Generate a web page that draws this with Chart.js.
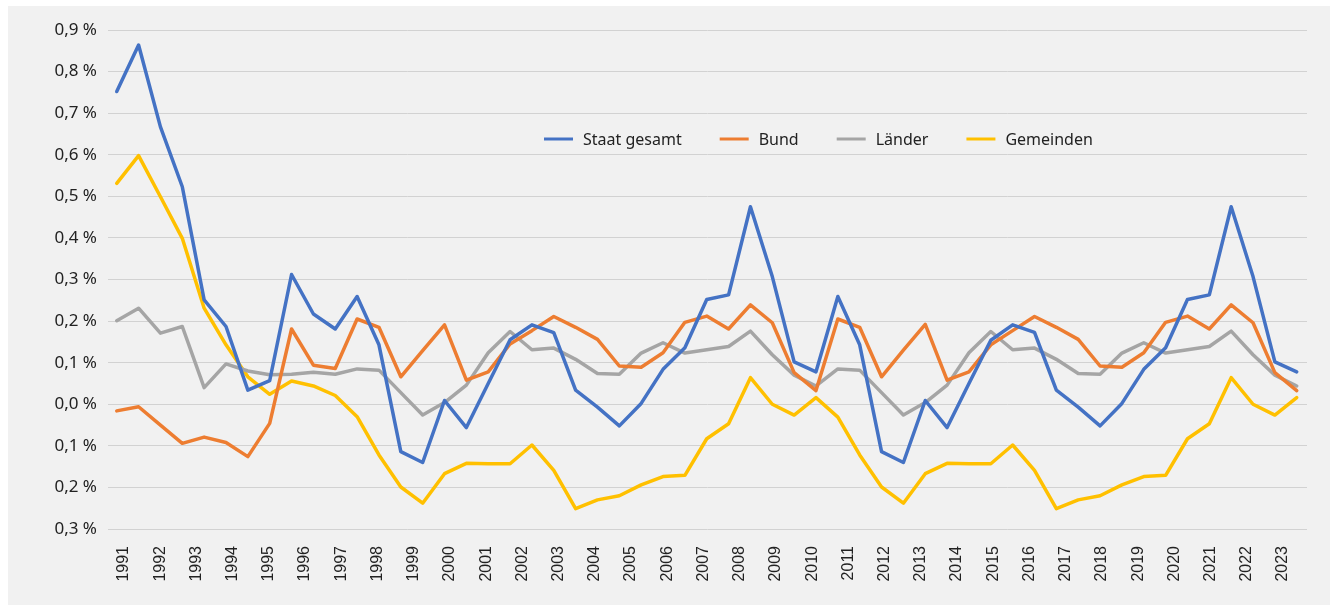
<!DOCTYPE html>
<html>
<head>
<meta charset="utf-8">
<script src="https://cdn.jsdelivr.net/npm/chart.js@4.4.1/dist/chart.umd.min.js"></script>
<style>
  html, body { margin: 0; padding: 0; background: #fff; }
  #box { position: absolute; left: 8px; top: 6px; width: 1322px; height: 599px; background: #f1f1f1; }
</style>
</head>
<body>
<div id="box"><canvas id="chart"></canvas></div>
<script>
// tick labels on the x axis
const years = [1991, 1992, 1993, 1994, 1995, 1996, 1997, 1998, 1999, 2000, 2001,
  2002, 2003, 2004, 2005, 2006, 2007, 2008, 2009, 2010, 2011, 2012, 2013, 2014,
  2015, 2016, 2017, 2018, 2019, 2020, 2021, 2022, 2023];

// the lines have 55 points, spread evenly under the year labels
const steps = [0, 1, 2, 3, 4, 5, 6, 7, 8, 9, 10, 11, 12, 13, 14, 15, 16, 17, 18, 19,
  20, 21, 22, 23, 24, 25, 26, 27, 28, 29, 30, 31, 32, 33, 34, 35, 36, 37, 38, 39,
  40, 41, 42, 43, 44, 45, 46, 47, 48, 49, 50, 51, 52, 53, 54];

const yTicks = [-0.3, -0.2, -0.1, 0, 0.1, 0.2, 0.3, 0.4, 0.5, 0.6, 0.7, 0.8, 0.9];

const staat = [0.752, 0.864, 0.667, 0.523, 0.251, 0.187, 0.034, 0.057, 0.312, 0.217,
  0.181, 0.259, 0.143, -0.114, -0.140, 0.009, -0.056, 0.050, 0.155, 0.191,
  0.172, 0.034, -0.007, -0.052, 0.002, 0.084, 0.136, 0.252, 0.263, 0.475,
  0.307, 0.102, 0.078, 0.259, 0.143, -0.114, -0.140, 0.009, -0.056, 0.050,
  0.154, 0.191, 0.173, 0.034, -0.007, -0.052, 0.002, 0.084, 0.136, 0.252,
  0.263, 0.475, 0.307, 0.102, 0.078];

const bund = [-0.016, -0.006, -0.050, -0.094, -0.079, -0.092, -0.126, -0.046, 0.181, 0.094,
  0.086, 0.205, 0.185, 0.066, 0.129, 0.191, 0.058, 0.078, 0.145, 0.177,
  0.211, 0.185, 0.156, 0.092, 0.089, 0.124, 0.197, 0.212, 0.181, 0.239,
  0.196, 0.076, 0.033, 0.205, 0.185, 0.066, 0.130, 0.192, 0.058, 0.078,
  0.143, 0.177, 0.211, 0.185, 0.156, 0.092, 0.089, 0.124, 0.197, 0.212,
  0.181, 0.239, 0.196, 0.076, 0.033];

const laender = [0.201, 0.231, 0.171, 0.187, 0.040, 0.097, 0.080, 0.071, 0.072, 0.077,
  0.072, 0.085, 0.082, 0.028, -0.026, 0.004, 0.046, 0.124, 0.175, 0.131,
  0.135, 0.108, 0.074, 0.072, 0.123, 0.148, 0.123, 0.131, 0.139, 0.176,
  0.119, 0.070, 0.044, 0.085, 0.082, 0.028, -0.026, 0.004, 0.046, 0.124,
  0.175, 0.131, 0.135, 0.108, 0.074, 0.072, 0.123, 0.148, 0.123, 0.131,
  0.139, 0.176, 0.119, 0.070, 0.044];

const gemeinden = [0.531, 0.598, 0.499, 0.399, 0.231, 0.143, 0.066, 0.024, 0.056, 0.044,
  0.021, -0.030, -0.122, -0.199, -0.238, -0.167, -0.142, -0.143, -0.143, -0.098,
  -0.159, -0.251, -0.230, -0.220, -0.194, -0.174, -0.171, -0.083, -0.047, 0.064,
  0.000, -0.026, 0.016, -0.031, -0.122, -0.199, -0.238, -0.167, -0.142, -0.143,
  -0.143, -0.098, -0.159, -0.251, -0.230, -0.220, -0.194, -0.174, -0.171, -0.083,
  -0.047, 0.064, 0.000, -0.026, 0.016];

const textColor = '#222222';

// legend sits inside the plot, so draw it ourselves
const innerLegend = {
  id: 'innerLegend',
  afterDraw(chart) {
    const ctx = chart.ctx;
    ctx.save();
    ctx.font = '16px "Noto Sans"';
    ctx.textBaseline = 'alphabetic';
    let x = 536;
    const y = 133;
    chart.data.datasets.forEach(ds => {
      ctx.strokeStyle = ds.borderColor;
      ctx.lineWidth = 3;
      ctx.beginPath();
      ctx.moveTo(x, y);
      ctx.lineTo(x + 29, y);
      ctx.stroke();
      x += 39;
      ctx.fillStyle = textColor;
      ctx.fillText(ds.label, x, y + 6);
      x += ctx.measureText(ds.label).width + 38;
    });
    ctx.restore();
  }
};

const line = (label, data, color) => ({
  label, data,
  borderColor: color,
  backgroundColor: color,
  borderWidth: 3.5,
  borderJoinStyle: 'round',
  borderCapStyle: 'round',
  pointRadius: 0,
  tension: 0
});

new Chart(document.getElementById('chart'), {
  type: 'line',
  data: {
    labels: steps,
    datasets: [
      line('Staat gesamt', staat, '#4472C4'),
      line('Bund', bund, '#ED7D31'),
      line('Länder', laender, '#A5A5A5'),
      line('Gemeinden', gemeinden, '#FFC000')
    ]
  },
  options: {
    responsive: true,
    maintainAspectRatio: false,
    animation: false,
    layout: { padding: { top: 24, right: 23, left: 0, bottom: 0 } },
    plugins: { legend: { display: false }, tooltip: { enabled: false } },
    scales: {
      x: {
        type: 'linear',
        display: false,
        min: -0.4,
        max: 54.47
      },
      x2: {
        type: 'linear',
        position: 'bottom',
        min: 1990.56,
        max: 2023.66,
        afterBuildTicks: axis => { axis.ticks = years.map(v => ({ value: v })); },
        afterFit: axis => { axis.height = 76; },
        grid: { display: false, drawTicks: false },
        border: { display: false },
        ticks: {
          autoSkip: false,
          minRotation: 90,
          maxRotation: 90,
          padding: 17,
          color: textColor,
          font: { family: 'Liberation Sans', size: 16 },
          callback: v => String(v)
        }
      },
      y: {
        min: -0.3,
        max: 0.9,
        afterBuildTicks: axis => { axis.ticks = yTicks.map(v => ({ value: v })); },
        afterFit: axis => { axis.width = 100; },
        grid: { color: '#d2d2d2', lineWidth: 1, drawTicks: false },
        border: { display: false },
        ticks: {
          padding: 11,
          color: textColor,
          font: { family: 'Noto Sans', size: 17 },
          callback: v => Math.abs(v).toFixed(1).replace('.', ',') + ' %'
        }
      }
    }
  },
  plugins: [innerLegend]
});
</script>
</body>
</html>
